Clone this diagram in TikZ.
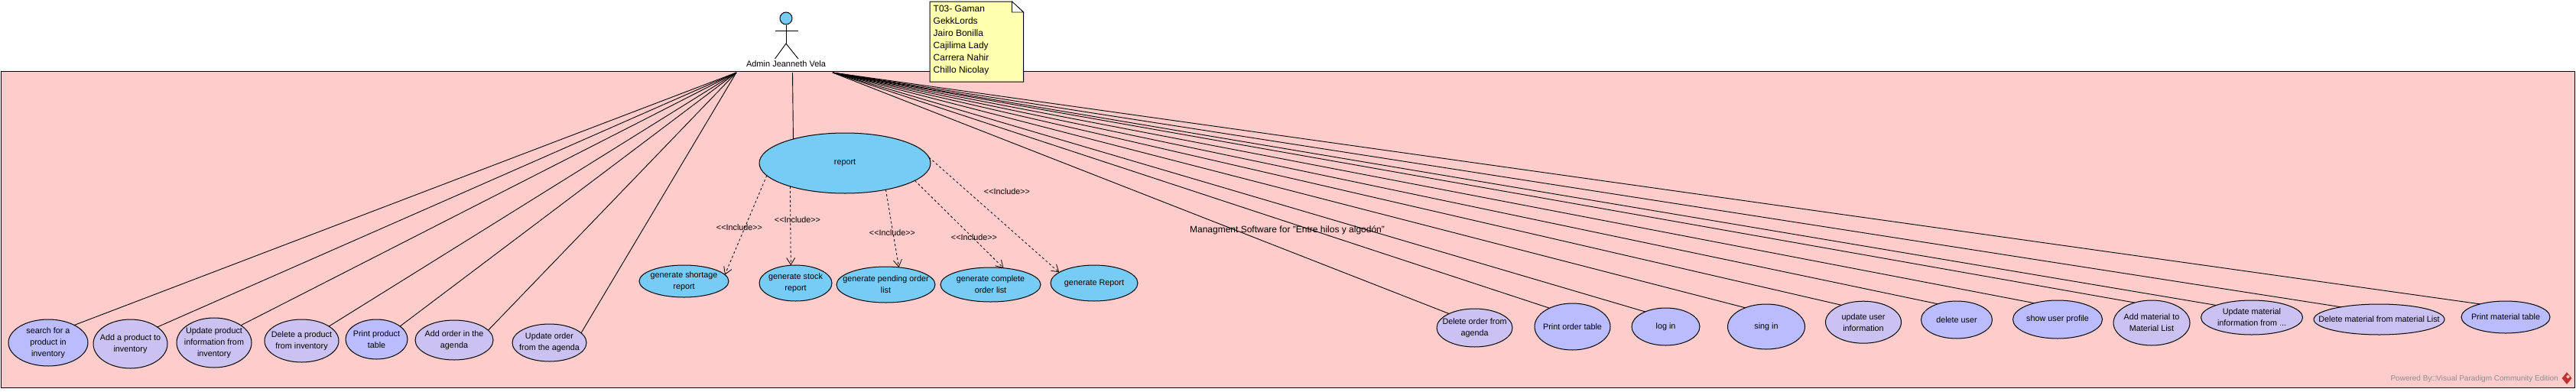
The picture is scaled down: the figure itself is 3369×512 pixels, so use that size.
\documentclass[tikz,border=0pt]{standalone}
\usepackage{fontspec}
\setmainfont{Liberation Sans}
\usetikzlibrary{shapes.geometric,arrows.meta}
\definecolor{framepink}{HTML}{FFCCCC}
\definecolor{ucblue}{HTML}{BBBBFF}
\definecolor{ucviolet}{HTML}{CCC2F2}
\definecolor{ucsky}{HTML}{77CCF5}
\definecolor{notefill}{HTML}{FFFFB0}
\definecolor{logored}{HTML}{C03030}
\tikzset{
    usecase/.style={ellipse, draw=black, line width=1pt, inner sep=-40pt, outer sep=0pt, align=center, font=\fontsize{10.8}{15}\selectfont},
    bluecase/.style={usecase, fill=ucblue},
    violetcase/.style={usecase, fill=ucviolet},
    skycase/.style={usecase, fill=ucsky},
    assoc/.style={draw=black, line width=0.9pt},
    incl/.style={draw=black, line width=0.8pt, dashed, -{Straight Barb[length=9pt,width=11pt]}},
    incllabel/.style={inner sep=0pt, font=\fontsize{10.8}{15}\selectfont}
}
\newcommand{\inclText}{<{}<Include>{}>}
\begin{document}
\begin{tikzpicture}[x=1pt, y=-1pt]
    \useasboundingbox (0,0) rectangle (3369,512);

    % System frame
    \node[draw=black, line width=1pt, fill=framepink, inner sep=0pt, outer sep=0pt, minimum width=3366pt, minimum height=414pt, anchor=north west] (frame) at (1.5,93) {};
    \node[font=\fontsize{12}{15}\selectfont, inner sep=0pt] (title) at (1683.5,301) {Managment Software for "Entre hilos y algodón"};

    % Actor
    \node[circle, draw=black, line width=1pt, fill=ucsky, minimum size=16pt, inner sep=0pt] (head) at (1028,24) {};
    \coordinate (hip) at (1028,57);
    \coordinate (armL) at (1013.5,40);
    \coordinate (armR) at (1044,40);
    \coordinate (legL) at (1013.5,77);
    \coordinate (legR) at (1044,77);
    \draw[assoc] (head) -- (hip);
    \draw[assoc] (armL) -- (armR);
    \draw[assoc] (legL) -- (hip) -- (legR);
    \node[inner sep=0pt, font=\fontsize{11}{15}\selectfont] (admin) at (1028,84) {Admin Jeanneth Vela};
    \coordinate (adminL) at (963,95);
    \coordinate (adminM) at (1036.5,95);
    \coordinate (adminR) at (1089,95);

    % Note
    \coordinate (noteA) at (1216,2);
    \coordinate (noteB) at (1323.5,2);
    \coordinate (noteC) at (1338.5,16);
    \coordinate (noteD) at (1338.5,107);
    \coordinate (noteE) at (1216,107);
    \coordinate (noteF) at (1323.5,16);
    \draw[line width=1pt, fill=notefill] (noteA) -- (noteB) -- (noteC) -- (noteD) -- (noteE) -- cycle;
    \draw[line width=0.7pt, fill=white] (noteB) -- (noteF) -- (noteC) -- cycle;
    \node[anchor=north west, inner sep=0pt, align=left, font=\fontsize{12}{16}\selectfont] (team) at (1220.5,6.5) {T03- Gaman\\GekkLords\\Jairo Bonilla\\Cajilima Lady\\Carrera Nahir\\Chillo Nicolay};

    % Left use cases
    \node[bluecase, minimum width=104pt, minimum height=61pt] (search) at (63,448.5) {search for a\\product in\\inventory};
    \node[violetcase, minimum width=97pt, minimum height=64pt] (addProduct) at (170.5,450) {Add a product to\\inventory};
    \node[violetcase, minimum width=98pt, minimum height=65pt] (updateProduct) at (280,448.5) {Update product\\information from\\inventory};
    \node[violetcase, minimum width=97pt, minimum height=56pt] (deleteProduct) at (394.5,446) {Delete a product\\from inventory};
    \node[bluecase, minimum width=81pt, minimum height=52pt] (printProduct) at (492.5,444) {Print product\\table};
    \node[violetcase, minimum width=102pt, minimum height=52pt] (addOrder) at (594,445) {Add order in the\\agenda};
    \node[violetcase, minimum width=97pt, minimum height=49pt] (updateOrder) at (718.5,448.5) {Update order\\from the agenda};

    % Report use cases
    \node[skycase, minimum width=224pt, minimum height=79pt] (report) at (1105,213.5) {report};
    \node[skycase, minimum width=117pt, minimum height=42pt] (shortage) at (894.5,368) {generate shortage\\report};
    \node[skycase, minimum width=95pt, minimum height=47pt] (stock) at (1040.5,370.5) {generate stock\\report};
    \node[skycase, minimum width=129pt, minimum height=47pt] (pending) at (1158.5,372.5) {generate pending order\\list};
    \node[skycase, minimum width=131pt, minimum height=45pt] (complete) at (1295.5,372.5) {generate complete\\order list};
    \node[skycase, minimum width=114pt, minimum height=47pt] (genReport) at (1431,370.5) {generate Report};

    % Right use cases
    \node[violetcase, minimum width=99pt, minimum height=50pt] (deleteOrder) at (1928.5,429) {Delete order from\\agenda};
    \node[bluecase, minimum width=99pt, minimum height=61pt] (printOrder) at (2056.5,427.5) {Print order table};
    \node[bluecase, minimum width=89pt, minimum height=49pt] (login) at (2178.5,427.5) {log in};
    \node[bluecase, minimum width=101pt, minimum height=59pt] (signin) at (2310,427.5) {sing in};
    \node[violetcase, minimum width=99pt, minimum height=55pt] (updateUser) at (2437,421.7) {update user\\information};
    \node[bluecase, minimum width=93pt, minimum height=49pt] (deleteUser) at (2559,418.5) {delete user};
    \node[bluecase, minimum width=117pt, minimum height=50pt] (showUser) at (2691,418) {show user profile};
    \node[violetcase, minimum width=100pt, minimum height=59pt] (addMaterial) at (2814,422.5) {Add material to\\Material List};
    \node[violetcase, minimum width=133pt, minimum height=45pt] (updateMaterial) at (2945,415.5) {Update material\\information from ...};
    \node[violetcase, minimum width=171pt, minimum height=40pt] (deleteMaterial) at (3111.5,418) {Delete material from material List};
    \node[bluecase, minimum width=116pt, minimum height=42pt] (printMaterial) at (3277,415) {Print material table};

    % Associations
    \draw[assoc] (adminL) -- (search.34.6);
    \draw[assoc] (adminL) -- (addProduct.32);
    \draw[assoc] (adminL) -- (updateProduct.33.9);
    \draw[assoc] (adminL) -- (deleteProduct.28.2);
    \draw[assoc] (adminL) -- (printProduct.29.1);
    \draw[assoc] (adminL) -- (addOrder.16.4);
    \draw[assoc] (adminL) -- (updateOrder.17.2);
    \draw[assoc] (adminM) -- (report.155.7);
    \draw[assoc] (adminR) -- (deleteOrder.151);
    \draw[assoc] (adminR) -- (printOrder.141);
    \draw[assoc] (adminR) -- (login.144.2);
    \draw[assoc] (adminR) -- (signin.138.8);
    \draw[assoc] (adminR) -- (updateUser.142.7);
    \draw[assoc] (adminR) -- (deleteUser.140.6);
    \draw[assoc] (adminR) -- (showUser.145.4);
    \draw[assoc] (adminR) -- (addMaterial.130.8);
    \draw[assoc] (adminR) -- (updateMaterial.161);
    \draw[assoc] (adminR) -- (deleteMaterial.162.7);
    \draw[assoc] (adminR) -- (printMaterial.153.1);

    % Includes
    \draw[incl] (report.189.2) -- (shortage.9.5);
    \draw[incl] (report.203.9) -- (stock.105.5);
    \draw[incl] (report.327.3) -- (pending.53.7);
    \draw[incl] (report.346.7) -- (complete.52.5);
    \draw[incl] (report.4.3) -- (genReport.163.6);
    \node[incllabel] (inclA) at (967,298) {\inclText};
    \node[incllabel] (inclB) at (1043,288) {\inclText};
    \node[incllabel] (inclC) at (1167,305) {\inclText};
    \node[incllabel] (inclD) at (1274,311) {\inclText};
    \node[incllabel] (inclE) at (1317,251) {\inclText};

    % Watermark
    \node[anchor=east, inner sep=0pt, text=black!45, font=\fontsize{10}{12}\selectfont] (powered) at (3346,495.5) {Powered By□Visual Paradigm Community Edition};
    \node[diamond, fill=logored, inner sep=0pt, minimum width=13pt, minimum height=16pt] (logo) at (3357,495) {};
    \node[diamond, fill=framepink, inner sep=0pt, minimum width=5pt, minimum height=5pt] (logoMark) at (3358.5,493) {};
\end{tikzpicture}
\end{document}
